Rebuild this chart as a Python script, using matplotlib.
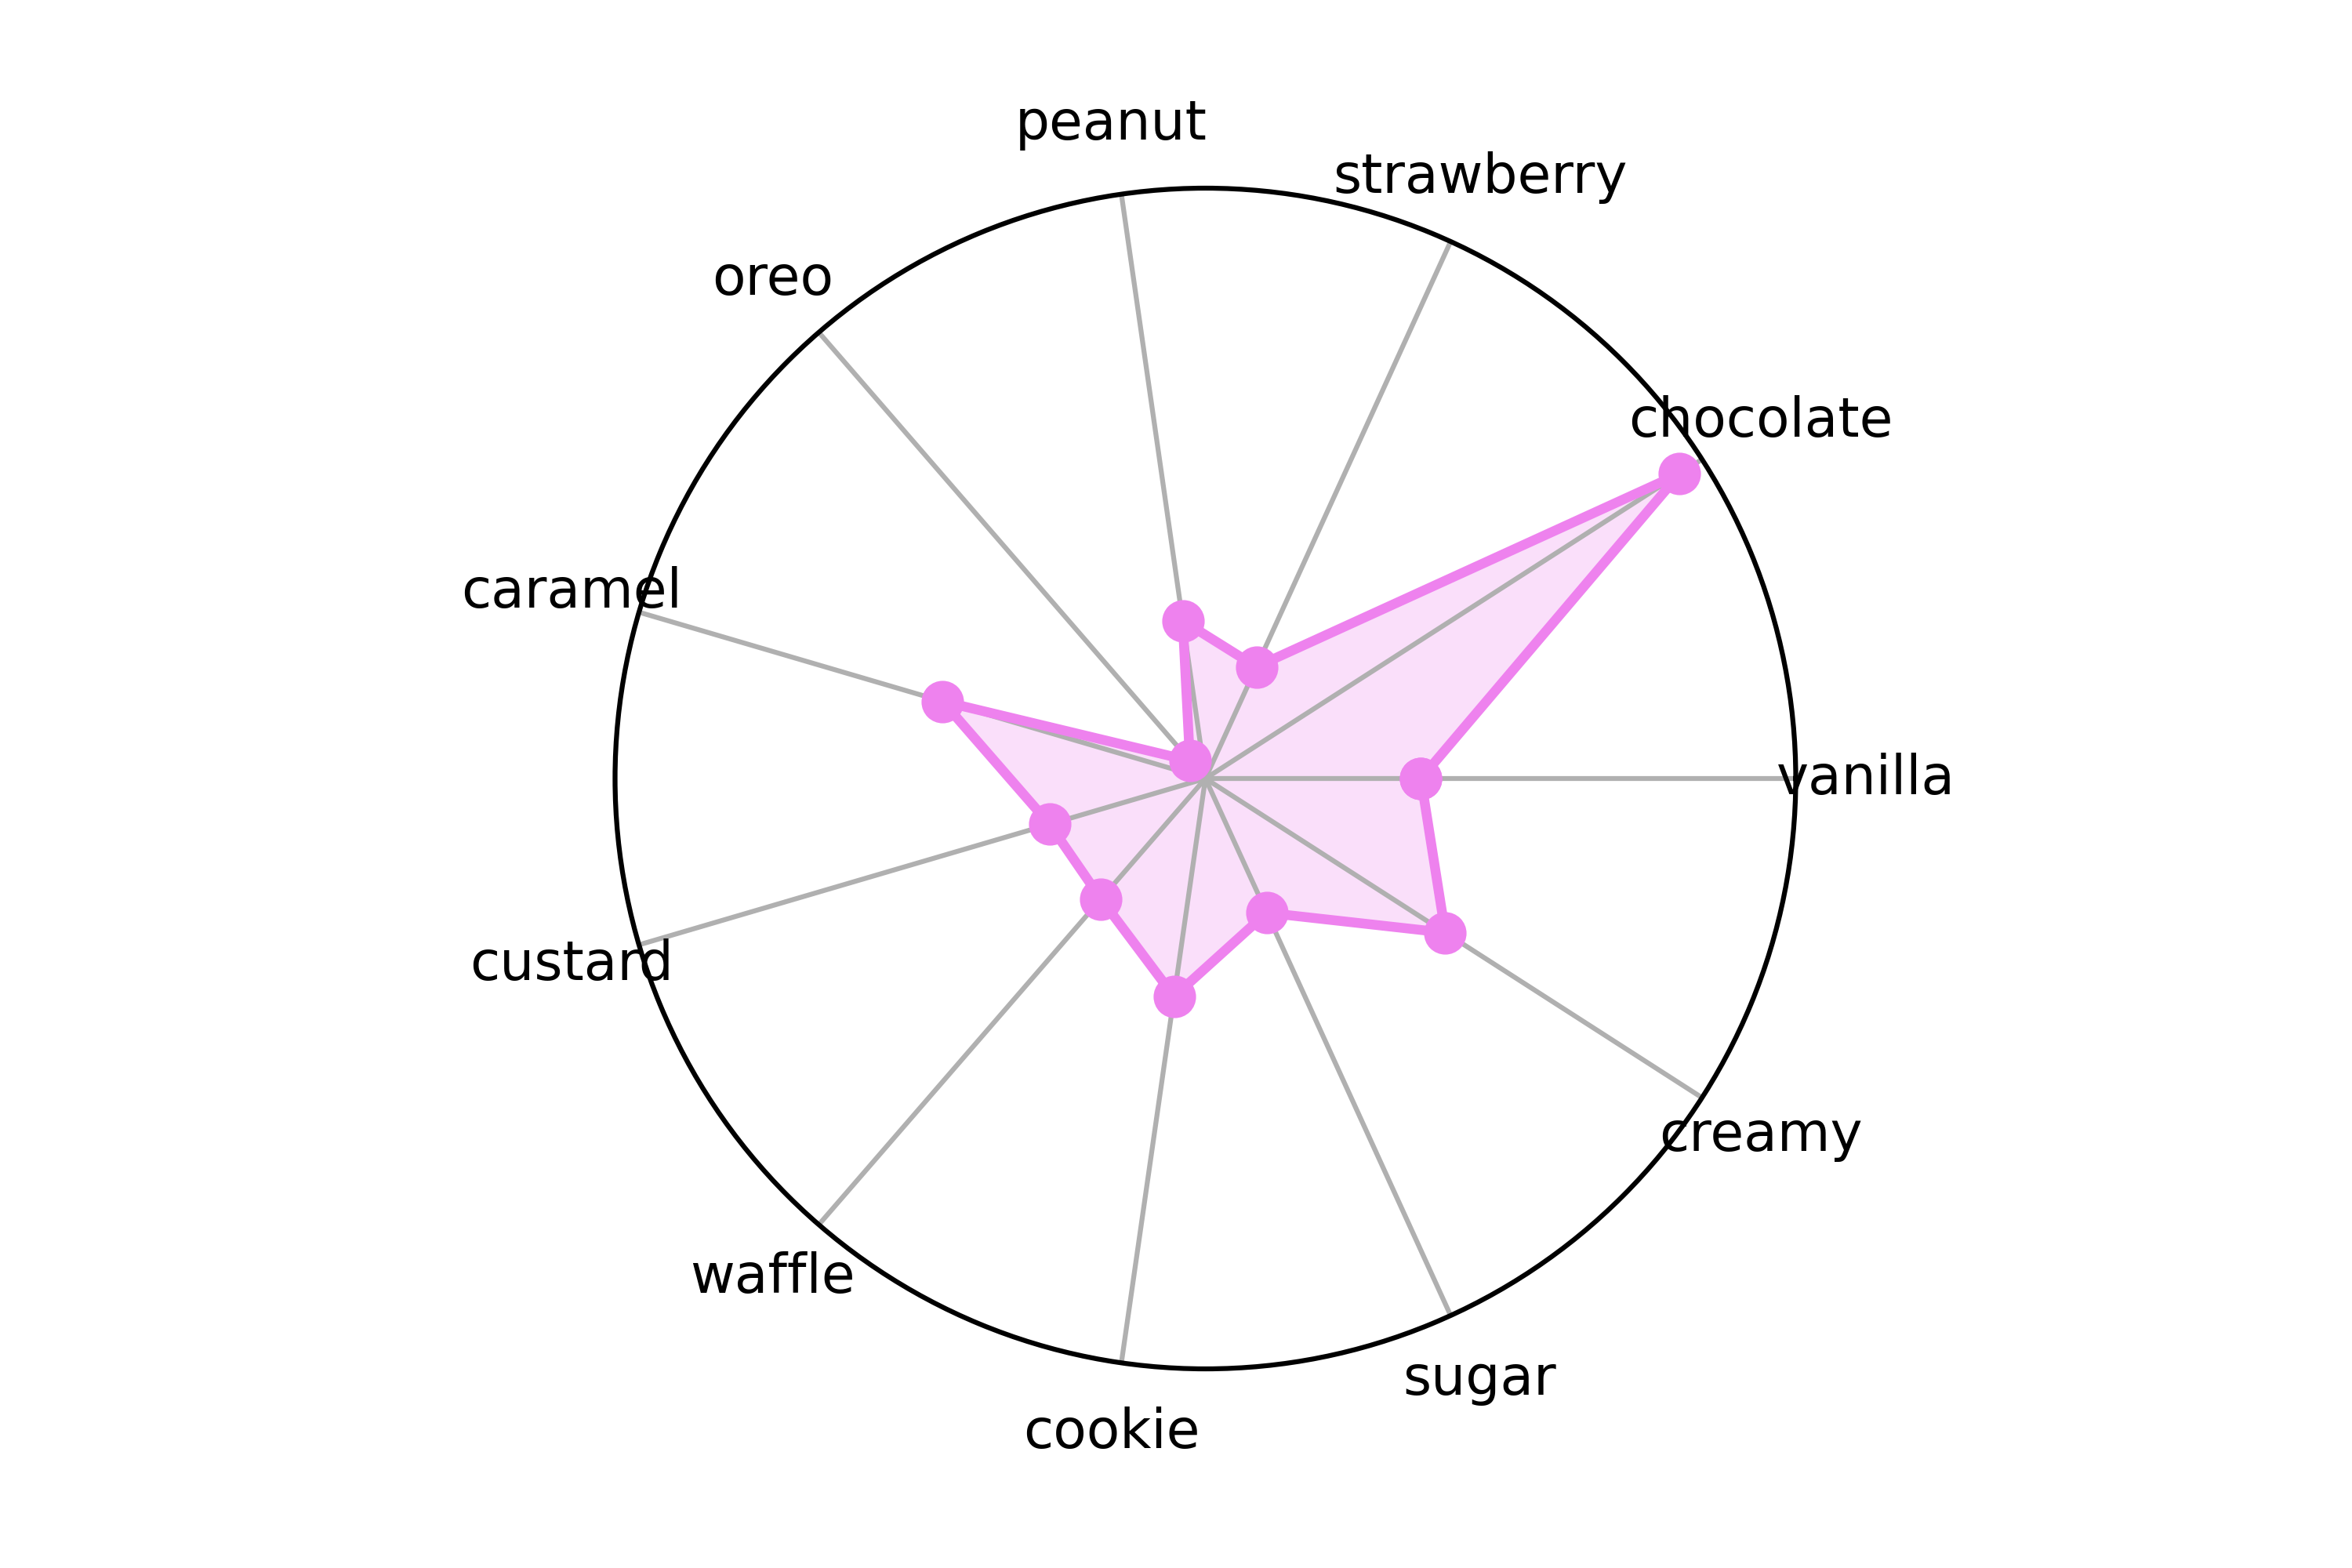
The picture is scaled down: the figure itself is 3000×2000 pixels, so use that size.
import matplotlib
matplotlib.use("Agg")
import matplotlib.pyplot as plt
import numpy as np

categories = ["vanilla", "chocolate", "strawberry", "peanut", "oreo", "caramel",
              "custard", "waffle", "cookie", "sugar", "creamy"]
values = [0.365, 0.955, 0.208, 0.27, 0.04, 0.464, 0.275, 0.27, 0.373, 0.25, 0.483]


def main() -> None:
    n = len(categories)
    angles = np.linspace(0, 2 * np.pi, n, endpoint=False)
    closed_angles = np.concatenate([angles, angles[:1]])
    closed_values = np.concatenate([values, values[:1]])

    fig = plt.figure(figsize=(10, 20 / 3))
    fig.subplots_adjust(bottom=0.127, top=0.88)
    ax = fig.add_subplot(111, polar=True)

    ax.plot(closed_angles, closed_values, color="violet", linewidth=3,
            marker="o", markersize=12)
    ax.fill(closed_angles, closed_values, color="violet", alpha=0.25)

    ax.set_xticks(angles)
    ax.set_xticklabels(categories, fontsize=16.7)
    ax.tick_params(axis="x", pad=11)
    ax.set_yticks([])
    ax.set_ylim(0, 1)
    ax.grid(True, color="#b0b0b0", linewidth=1.5)
    ax.spines["polar"].set_linewidth(1.5)

    fig.savefig("out.png", dpi=300)
    plt.close(fig)


if __name__ == "__main__":
    main()
